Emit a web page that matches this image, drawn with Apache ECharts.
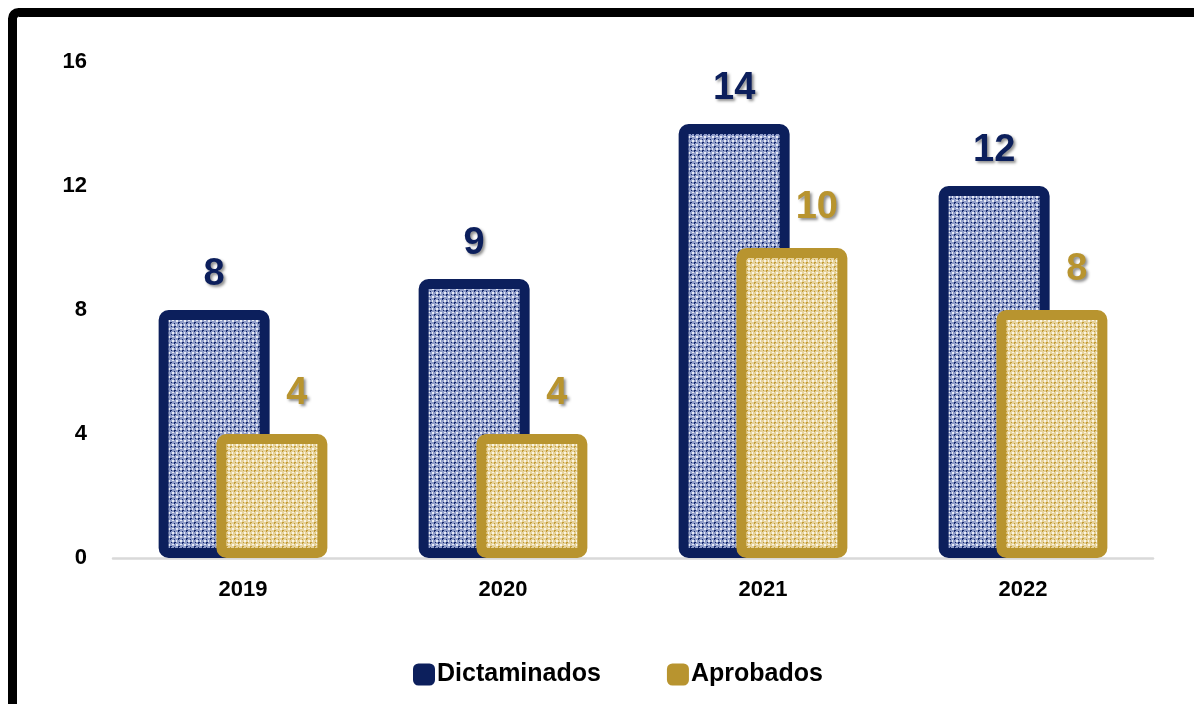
<!DOCTYPE html>
<html>
<head>
<meta charset="utf-8">
<script src="https://cdn.jsdelivr.net/npm/echarts@6/dist/echarts.min.js"></script>
<style>html,body{margin:0;padding:0;background:#fff;}#c{width:1194px;height:704px;}</style>
</head>
<body>
<div id="c"></div>
<script>
const categories = ['2019', '2020', '2021', '2022'];
const dictaminados = [8, 9, 14, 12];
const aprobados = [4, 4, 10, 8];
const yTicks = [0, 4, 8, 12, 16];

function makePattern(bg, light, dark) {
  const c = document.createElement('canvas');
  c.width = 8; c.height = 8;
  const g = c.getContext('2d');
  g.fillStyle = bg; g.fillRect(0, 0, 8, 8);
  g.fillStyle = light;
  [[0,0],[1,0],[0,1],[1,1],[4,4],[5,4],[4,5],[5,5],[4,0],[5,0],[0,4],[0,5]].forEach(p => g.fillRect(p[0], p[1], 1, 1));
  g.fillStyle = dark;
  [[2,2],[3,2],[2,3],[6,6],[7,6],[6,7],[3,6],[6,3]].forEach(p => g.fillRect(p[0], p[1], 1, 1));
  return c;
}
const navy = '#0c1f5c';
const gold = '#b8942f';
const patNavy = makePattern('#909dc9', '#e6eaf5', '#13276a');
const patGold = makePattern('#e6d29c', '#fbf5e3', '#c39c34');

const chart = echarts.init(document.getElementById('c'), null, {renderer: 'canvas'});
const labelShadow = {textShadowColor: 'rgba(0,0,0,0.45)', textShadowBlur: 3, textShadowOffsetX: 2, textShadowOffsetY: 2};
chart.setOption({
  animation: false,
  backgroundColor: '#fff',
  graphic: [{
    type: 'rect', z: 100,
    shape: {x: 12.5, y: 12.5, width: 1400, height: 900, r: 6},
    style: {fill: 'none', stroke: '#000', lineWidth: 9}
  }],
  grid: {left: 113, right: 41, top: 62, bottom: 146},
  legend: {
    left: 408, top: 657,
    itemWidth: 22, itemHeight: 22, itemGap: 66,
    icon: 'roundRect',
    textStyle: {fontFamily: 'Liberation Sans', fontWeight: 'bold', fontSize: 25, color: '#000', padding: [0, 0, 0, -3]},
    data: [
      {name: 'Dictaminados', itemStyle: {color: navy, borderWidth: 0}},
      {name: 'Aprobados', itemStyle: {color: gold, borderWidth: 0}}
    ]
  },
  xAxis: {
    type: 'category', data: categories,
    axisLine: {lineStyle: {color: '#d9d9d9', width: 2.5}},
    axisTick: {show: false},
    axisLabel: {margin: 21, fontFamily: 'Liberation Sans', fontWeight: 'bold', fontSize: 22, color: '#000'}
  },
  yAxis: {
    type: 'value', min: yTicks[0], max: yTicks[yTicks.length - 1], interval: yTicks[1] - yTicks[0],
    axisLine: {show: false}, axisTick: {show: false}, splitLine: {show: false},
    axisLabel: {margin: 26, fontFamily: 'Liberation Sans', fontWeight: 'bold', fontSize: 22, color: '#000'}
  },
  series: [
    {
      name: 'Dictaminados', type: 'bar', data: dictaminados,
      barWidth: 111, barGap: '-48%',
      itemStyle: {color: {image: patNavy, repeat: 'repeat'}, borderColor: navy, borderWidth: 10, borderRadius: 5},
      label: Object.assign({show: true, position: 'top', distance: 16, fontFamily: 'Liberation Sans', fontWeight: 'bold', fontSize: 38, color: navy}, labelShadow)
    },
    {
      name: 'Aprobados', type: 'bar', data: aprobados,
      barWidth: 111,
      itemStyle: {color: {image: patGold, repeat: 'repeat'}, borderColor: gold, borderWidth: 10, borderRadius: 5},
      label: Object.assign({show: true, position: 'top', distance: 16, offset: [25, -5], fontFamily: 'Liberation Sans', fontWeight: 'bold', fontSize: 38, color: gold}, labelShadow)
    }
  ]
});
</script>
</body>
</html>
